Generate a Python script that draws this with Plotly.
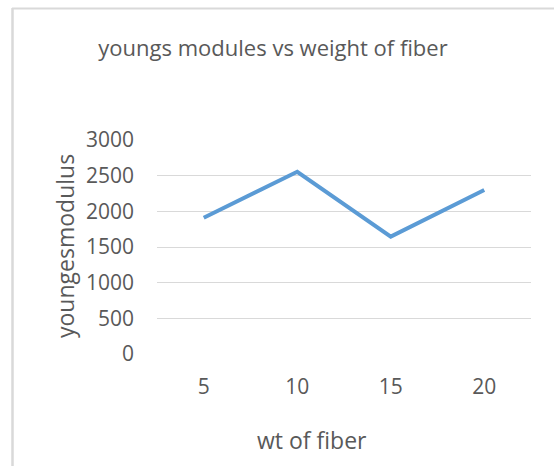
import plotly.graph_objects as go

wt_of_fiber = ['5', '10', '15', '20']
youngs_modulus = [1910, 2555, 1645, 2300]
y_ticks = [0, 500, 1000, 1500, 2000, 2500, 3000]

W, H = 554, 466
pw, ph = 374, 214
L, T = 157, 140
R, B = W - L - pw, H - T - ph


def px_x(p):
    return (p - L) / pw


def px_y(p):
    return (T + ph - p) / ph


font = 'Open Sans, Calibri, sans-serif'
grey = '#595959'

fig = go.Figure()
fig.add_trace(go.Scatter(
    x=wt_of_fiber, y=youngs_modulus, mode='lines',
    line=dict(color='#5B9BD5', width=4), showlegend=False
))

fig.update_layout(
    width=W, height=H,
    margin=dict(l=L, r=R, t=T, b=B),
    paper_bgcolor='white', plot_bgcolor='white',
    title=dict(text='youngs modules vs weight of fiber', x=273 / W, xref='container',
               xanchor='center', y=1 - 48 / H, yanchor='middle',
               font=dict(family=font, size=22, color=grey)),
    font=dict(family=font, color=grey),
    shapes=[
        dict(type='line', xref='paper', yref='paper', x0=px_x(12.5), x1=px_x(12.5),
             y0=px_y(8), y1=px_y(470), line=dict(color='#D9D9D9', width=2.5)),
        dict(type='line', xref='paper', yref='paper', x0=px_x(12), x1=px_x(560),
             y0=px_y(8.5), y1=px_y(8.5), line=dict(color='#D9D9D9', width=2)),
    ],
    annotations=[
        dict(text='wt of fiber', xref='paper', yref='paper', x=px_x(312), y=px_y(440),
             xanchor='center', yanchor='middle', showarrow=False,
             font=dict(family=font, size=23, color=grey)),
        dict(text='youngesmodulus', xref='paper', yref='paper', x=px_x(65), y=px_y(246),
             xanchor='center', yanchor='middle', showarrow=False, textangle=-90,
             font=dict(family=font, size=23, color=grey)),
    ],
)
fig.update_xaxes(type='category', range=[-0.5, 3.5], showgrid=False, showline=False,
                 zeroline=False, ticks='', ticklabelstandoff=18,
                 tickfont=dict(family=font, size=21, color=grey))
fig.update_yaxes(range=[0, 3000], tickvals=y_ticks, showgrid=True, gridcolor='#D9D9D9',
                 gridwidth=1, zeroline=False, showline=False, ticks='',
                 ticklabelstandoff=22, tickfont=dict(family=font, size=21, color=grey))

# drop the page's default body margin so the figure sits at the window's corner
fig.write_html("out.html", config={'displayModeBar': False},
               post_script="document.body.style.margin='0';document.body.style.overflow='hidden';")
